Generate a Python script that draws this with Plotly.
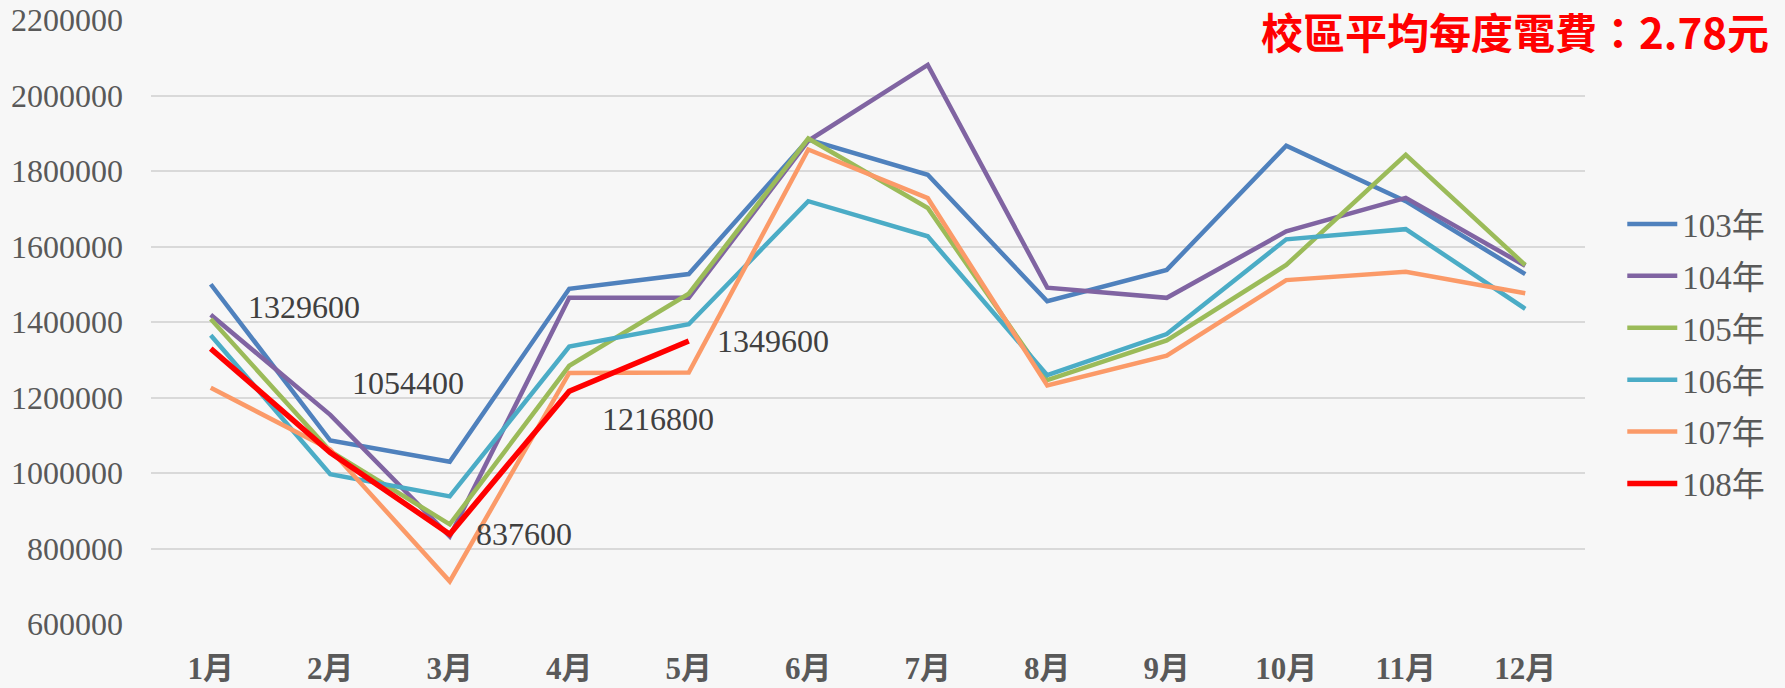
import plotly.graph_objects as go

months = ["1月", "2月", "3月", "4月", "5月", "6月", "7月", "8月", "9月", "10月", "11月", "12月"]
series_names = ["103年", "104年", "105年", "106年", "107年", "108年"]
y103 = [1500000, 1086000, 1030000, 1488000, 1527000, 1883000, 1790000, 1455000, 1538000, 1867000, 1720000, 1527000]
y104 = [1419000, 1154000, 832000, 1464000, 1464000, 1880000, 2081000, 1491000, 1464000, 1640000, 1729000, 1549000]
y105 = [1408000, 1058000, 864000, 1284000, 1475000, 1886000, 1702000, 1246000, 1351000, 1551000, 1843000, 1551000]
y106 = [1365000, 997000, 938000, 1335000, 1394000, 1720000, 1627000, 1259000, 1368000, 1619000, 1646000, 1435000]
y107 = [1226000, 1062000, 713000, 1265000, 1266000, 1857000, 1728000, 1232000, 1311000, 1511000, 1533000, 1476000]
y108 = [1329600, 1054400, 837600, 1216800, 1349600]
title_text = "校區平均每度電費：2.78元"
y_ticks = [600000, 800000, 1000000, 1200000, 1400000, 1600000, 1800000, 2000000, 2200000]

colors = ["#4f81bd", "#8064a2", "#9bbb59", "#4bacc6", "#fb9a68", "#ff0000"]
widths = [4.5, 4.5, 4.5, 4.5, 4.5, 5.5]
# label offsets (pixels) for the 108年 data labels
label_dx = [35, 20, 24, 31, 26]
label_dy = [42, 69, 0, -28, 0]

serif = "Liberation Serif, 'Times New Roman', 'Noto Sans CJK TC', serif"

fig = go.Figure()
all_series = [y103, y104, y105, y106, y107, y108]
for i, (name, vals) in enumerate(zip(series_names, all_series)):
    fig.add_trace(go.Scatter(
        x=months[:len(vals)], y=vals, name=name, mode="lines",
        line=dict(color=colors[i], width=widths[i]),
        legendgroup=name,
    ))

for i, v in enumerate(y108):
    fig.add_annotation(
        x=months[i], y=v, text=str(v), showarrow=False,
        xanchor="left", yanchor="middle",
        xshift=label_dx[i], yshift=label_dy[i],
        font=dict(family=serif, size=32, color="#404040"),
    )

fig.add_annotation(
    x=1.13, y=0.983, xref="paper", yref="paper",
    text="<b>" + title_text + "</b>", showarrow=False,
    xanchor="right", yanchor="middle",
    font=dict(family="'Noto Sans CJK TC', sans-serif", size=42, color="#ff0000"),
)

fig.update_layout(
    width=1785, height=688,
    margin=dict(l=151, r=200, t=20, b=64),
    paper_bgcolor="#f7f7f7", plot_bgcolor="#f7f7f7",
    showlegend=True,
    legend=dict(
        x=1.026, y=0.447, xanchor="left", yanchor="middle",
        font=dict(family=serif, size=33, color="#595959"),
        traceorder="grouped", tracegroupgap=6,
        itemwidth=50,
        bgcolor="rgba(0,0,0,0)",
    ),
    xaxis=dict(
        type="category", range=[-0.5, 11.5], automargin=False,
        showgrid=False, showline=False, zeroline=False,
        tickfont=dict(family=serif, size=31, color="#595959", weight="bold"),
        ticklabelstandoff=23,
    ),
    yaxis=dict(
        range=[600000, 2200000], tickvals=y_ticks, tickformat="d", automargin=False,
        showgrid=True, gridcolor="#d9d9d9", gridwidth=1.5,
        zeroline=False, showline=False,
        tickfont=dict(family=serif, size=32, color="#595959"),
        ticklabelstandoff=27,
    ),
)

fig.write_html(
    "out.html",
    config={"displayModeBar": False},
    post_script="document.body.style.margin='0';document.body.style.overflow='hidden';",
)
